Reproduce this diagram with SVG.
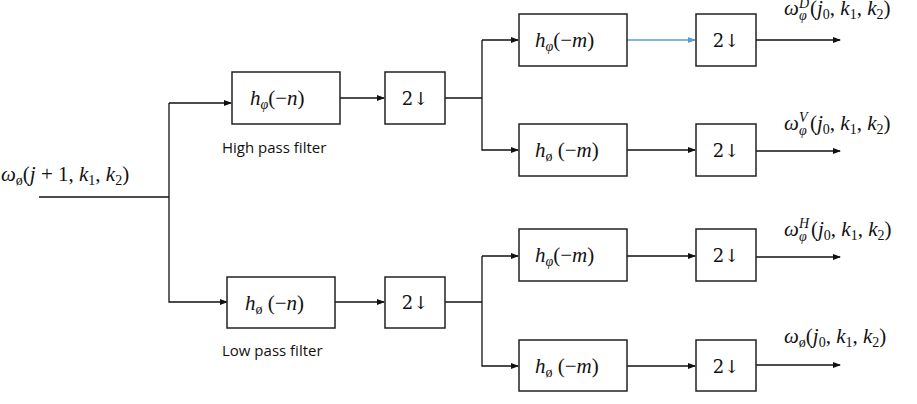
<svg xmlns="http://www.w3.org/2000/svg" width="917" height="404" viewBox="0 0 917 404">
<style>
rect{fill:#fff;stroke:#222;stroke-width:1.5}
.c line,.c polyline{fill:none;stroke:#111;stroke-width:1.3}
.m{font-family:"Liberation Serif",serif;font-size:21px;fill:#111}
.i{font-style:italic}
.s{font-size:14px}
.l{font-family:"Open Sans","Liberation Sans",sans-serif;font-size:15px;fill:#111}
.d{font-family:"DejaVu Serif",serif;font-size:18px;fill:#111;text-anchor:middle}
</style>
<defs>
<marker id="a" markerWidth="8" markerHeight="6" refX="7" refY="3" orient="auto" markerUnits="userSpaceOnUse"><path d="M0,0L8,3L0,6z" fill="#111"/></marker>
<marker id="b" markerWidth="8" markerHeight="6" refX="7" refY="3" orient="auto" markerUnits="userSpaceOnUse"><path d="M0,0L8,3L0,6z" fill="#5b9bd5"/></marker>
</defs>
<g class="c" id="connectors">
<polyline points="39,197 169,197"/>
<polyline points="169,103 169,302 227,302" marker-end="url(#a)"/>
<line x1="169" y1="103" x2="231" y2="103" marker-end="url(#a)"/>
<line x1="340" y1="98" x2="384" y2="98" marker-end="url(#a)"/>
<line x1="335" y1="302" x2="384" y2="302" marker-end="url(#a)"/>
<polyline points="445,98 482,98"/>
<polyline points="482,40 482,150 518,150" marker-end="url(#a)"/>
<line x1="482" y1="40" x2="518" y2="40" marker-end="url(#a)"/>
<polyline points="445,302 482,302"/>
<polyline points="482,256 482,366 518,366" marker-end="url(#a)"/>
<line x1="482" y1="256" x2="518" y2="256" marker-end="url(#a)"/>
<line x1="627" y1="40" x2="695" y2="40" style="stroke:#5b9bd5" marker-end="url(#b)"/>
<line x1="627" y1="150" x2="695" y2="150" marker-end="url(#a)"/>
<line x1="627" y1="256" x2="695" y2="256" marker-end="url(#a)"/>
<line x1="627" y1="366" x2="695" y2="366" marker-end="url(#a)"/>
<line x1="756" y1="40" x2="840" y2="40" marker-end="url(#a)"/>
<line x1="756" y1="151" x2="840" y2="151" marker-end="url(#a)"/>
<line x1="756" y1="257" x2="840" y2="257" marker-end="url(#a)"/>
<line x1="756" y1="365" x2="840" y2="365" marker-end="url(#a)"/>
</g>
<g id="input"><text class="m" x="1" y="181"><tspan class="i">ω</tspan><tspan class="s" dy="4">ø</tspan><tspan dy="-4">(</tspan><tspan class="i">j</tspan> + 1, <tspan class="i">k</tspan><tspan class="s" dy="4">1</tspan><tspan dy="-4">, </tspan><tspan class="i">k</tspan><tspan class="s" dy="4">2</tspan><tspan dy="-4">)</tspan></text></g>
<g id="hn"><rect x="232" y="72" width="108" height="52"/><text class="m" x="250" y="105"><tspan class="i">h</tspan><tspan class="s i" dy="4">φ</tspan><tspan dy="-4">(−</tspan><tspan class="i">n</tspan>)</text><text class="l" x="222" y="153">High pass filter</text></g>
<g id="ln"><rect x="227" y="277" width="108" height="51"/><text class="m" x="245" y="310"><tspan class="i">h</tspan><tspan class="s" dy="4">ø</tspan><tspan dy="-4"> (−</tspan><tspan class="i">n</tspan>)</text><text class="l" x="222" y="356">Low pass filter</text></g>
<g id="d1"><rect x="385" y="72" width="60" height="52"/><text class="d" x="415" y="105">2↓</text></g>
<g id="d2"><rect x="385" y="277" width="60" height="51"/><text class="d" x="415" y="309">2↓</text></g>
<g id="h1"><rect x="519" y="14" width="108" height="52"/><text class="m" x="535" y="47"><tspan class="i">h</tspan><tspan class="s i" dy="4">φ</tspan><tspan dy="-4">(−</tspan><tspan class="i">m</tspan>)</text></g>
<g id="h2"><rect x="519" y="124" width="108" height="52"/><text class="m" x="535" y="157"><tspan class="i">h</tspan><tspan class="s" dy="4">ø</tspan><tspan dy="-4"> (−</tspan><tspan class="i">m</tspan>)</text></g>
<g id="h3"><rect x="519" y="229" width="108" height="52"/><text class="m" x="535" y="262"><tspan class="i">h</tspan><tspan class="s i" dy="4">φ</tspan><tspan dy="-4">(−</tspan><tspan class="i">m</tspan>)</text></g>
<g id="h4"><rect x="519" y="340" width="108" height="51"/><text class="m" x="535" y="373"><tspan class="i">h</tspan><tspan class="s" dy="4">ø</tspan><tspan dy="-4"> (−</tspan><tspan class="i">m</tspan>)</text></g>
<g id="e1"><rect x="696" y="14" width="60" height="52"/><text class="d" x="726" y="47">2↓</text></g>
<g id="e2"><rect x="696" y="124" width="60" height="52"/><text class="d" x="726" y="157">2↓</text></g>
<g id="e3"><rect x="696" y="229" width="60" height="52"/><text class="d" x="726" y="262">2↓</text></g>
<g id="e4"><rect x="696" y="340" width="60" height="51"/><text class="d" x="726" y="373">2↓</text></g>
<g id="o1"><text class="m i" x="784" y="15">ω</text><text class="m s i" x="799" y="8">D</text><text class="m s i" x="799" y="20">φ</text><text class="m" x="810" y="15">(<tspan class="i">j</tspan><tspan class="s" dy="4">0</tspan><tspan dy="-4">, </tspan><tspan class="i">k</tspan><tspan class="s" dy="4">1</tspan><tspan dy="-4">, </tspan><tspan class="i">k</tspan><tspan class="s" dy="4">2</tspan><tspan dy="-4">)</tspan></text></g>
<g id="o2"><text class="m i" x="784" y="130">ω</text><text class="m s i" x="799" y="122">V</text><text class="m s i" x="799" y="135">φ</text><text class="m" x="810" y="130">(<tspan class="i">j</tspan><tspan class="s" dy="4">0</tspan><tspan dy="-4">, </tspan><tspan class="i">k</tspan><tspan class="s" dy="4">1</tspan><tspan dy="-4">, </tspan><tspan class="i">k</tspan><tspan class="s" dy="4">2</tspan><tspan dy="-4">)</tspan></text></g>
<g id="o3"><text class="m i" x="784" y="236">ω</text><text class="m s i" x="799" y="228">H</text><text class="m s i" x="799" y="241">φ</text><text class="m" x="811" y="236">(<tspan class="i">j</tspan><tspan class="s" dy="4">0</tspan><tspan dy="-4">, </tspan><tspan class="i">k</tspan><tspan class="s" dy="4">1</tspan><tspan dy="-4">, </tspan><tspan class="i">k</tspan><tspan class="s" dy="4">2</tspan><tspan dy="-4">)</tspan></text></g>
<g id="o4"><text class="m" x="784" y="343"><tspan class="i">ω</tspan><tspan class="s" dy="4">ø</tspan><tspan dy="-4">(</tspan><tspan class="i">j</tspan><tspan class="s" dy="4">0</tspan><tspan dy="-4">, </tspan><tspan class="i">k</tspan><tspan class="s" dy="4">1</tspan><tspan dy="-4">, </tspan><tspan class="i">k</tspan><tspan class="s" dy="4">2</tspan><tspan dy="-4">)</tspan></text></g>
</svg>
